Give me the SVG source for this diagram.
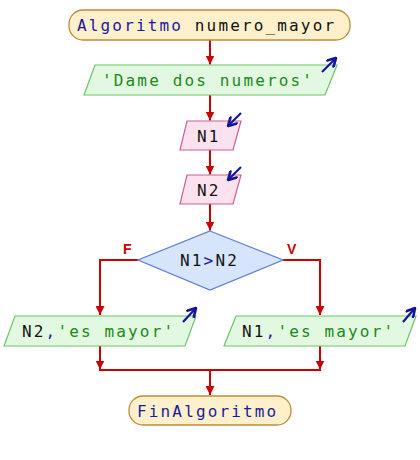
<svg xmlns="http://www.w3.org/2000/svg" width="420" height="460" viewBox="0 0 420 460">
<defs>
<marker id="ah" viewBox="0 0 10 10" refX="10" refY="5" markerWidth="4.5" markerHeight="4.5" orient="auto" markerUnits="strokeWidth"><path d="M0,0 L10,5 L0,10 z" fill="#cc0000"/></marker>
<marker id="bh" viewBox="0 0 10 10" refX="9" refY="5" markerWidth="5" markerHeight="5" orient="auto" markerUnits="strokeWidth"><path d="M1,0.5 L9,5 L1,9.5" fill="none" stroke="#14149c" stroke-width="2.4"/></marker>
</defs>
<style>
.t{font-family:"DejaVu Sans Mono","Liberation Mono",monospace;font-size:16px;letter-spacing:2.15px}
.kw{fill:#1a1aa0}.bk{fill:#111}.gr{fill:#1a8a1a}.bl{fill:#1a1aa0}
.term{fill:#fff0cc;stroke:#c08a38;stroke-width:1.3}
.out{fill:#e2f8e0;stroke:#6cc46c;stroke-width:1.2}
.inp{fill:#fce2ee;stroke:#cc6090;stroke-width:1.2}
.dec{fill:#d6e4fc;stroke:#5f80d4;stroke-width:1.3}
.ln{fill:none;stroke:#cc0000;stroke-width:2}
.ba{fill:none;stroke:#14149c;stroke-width:2.2}
.lab{font-family:"Liberation Sans",Arial,sans-serif;font-size:14px;font-weight:bold;fill:#cc0000}
</style>
<g id="connectors">
<line class="ln" x1="210" y1="40" x2="210" y2="64.5" marker-end="url(#ah)"/>
<line class="ln" x1="210" y1="95" x2="210" y2="120.5" marker-end="url(#ah)"/>
<line class="ln" x1="210" y1="150" x2="210" y2="174.5" marker-end="url(#ah)"/>
<line class="ln" x1="210" y1="204" x2="210" y2="230.5" marker-end="url(#ah)"/>
<polyline class="ln" points="138,260 100,260 100,315" marker-end="url(#ah)"/>
<polyline class="ln" points="283,260 320,260 320,315" marker-end="url(#ah)"/>
<line class="ln" x1="100" y1="346" x2="100" y2="369.5" marker-end="url(#ah)"/>
<line class="ln" x1="320" y1="346" x2="320" y2="369.5" marker-end="url(#ah)"/>
<line class="ln" x1="99" y1="370" x2="321" y2="370"/>
<line class="ln" x1="210" y1="370" x2="210" y2="395" marker-end="url(#ah)"/>
<text class="lab" x="123" y="254">F</text>
<text class="lab" x="287" y="254">V</text>
</g>
<g id="start">
<rect class="term" x="69" y="10" width="281" height="30" rx="14" ry="14"/>
<text class="t" x="77" y="31"><tspan class="kw">Algoritmo</tspan><tspan class="bk"> numero_mayor</tspan></text>
</g>
<g id="out1">
<polygon class="out" points="95,65 337,65 325,95 84,95"/>
<line class="ba" x1="322" y1="72" x2="336" y2="58" marker-end="url(#bh)"/>
<text class="t gr" x="102" y="86">'Dame dos numeros'</text>
</g>
<g id="in1">
<polygon class="inp" points="187,121 241,121 233,150 180,150"/>
<line class="ba" x1="241" y1="113" x2="228" y2="126" marker-end="url(#bh)"/>
<text class="t bk" x="197" y="142">N1</text>
</g>
<g id="in2">
<polygon class="inp" points="187,175 241,175 233,204 180,204"/>
<line class="ba" x1="241" y1="167" x2="228" y2="180" marker-end="url(#bh)"/>
<text class="t bk" x="197" y="196">N2</text>
</g>
<g id="decision">
<polygon class="dec" points="210,231 283,260 210,290 138,260"/>
<text class="t" x="180" y="266"><tspan class="bk">N1</tspan><tspan class="bl">&gt;</tspan><tspan class="bk">N2</tspan></text>
</g>
<g id="out2">
<polygon class="out" points="15,316 196,316 185,346 4,346"/>
<line class="ba" x1="183" y1="322" x2="196" y2="308" marker-end="url(#bh)"/>
<text class="t" x="22" y="337"><tspan class="bk">N2</tspan><tspan class="bl">,</tspan><tspan class="gr">'es mayor'</tspan></text>
</g>
<g id="out3">
<polygon class="out" points="236,316 416,316 405,346 224,346"/>
<line class="ba" x1="403" y1="322" x2="415" y2="308" marker-end="url(#bh)"/>
<text class="t" x="242" y="337"><tspan class="bk">N1</tspan><tspan class="bl">,</tspan><tspan class="gr">'es mayor'</tspan></text>
</g>
<g id="end">
<rect class="term" x="129" y="396" width="162" height="29" rx="14" ry="14"/>
<text class="t kw" x="137" y="416.5">FinAlgoritmo</text>
</g>
</svg>
